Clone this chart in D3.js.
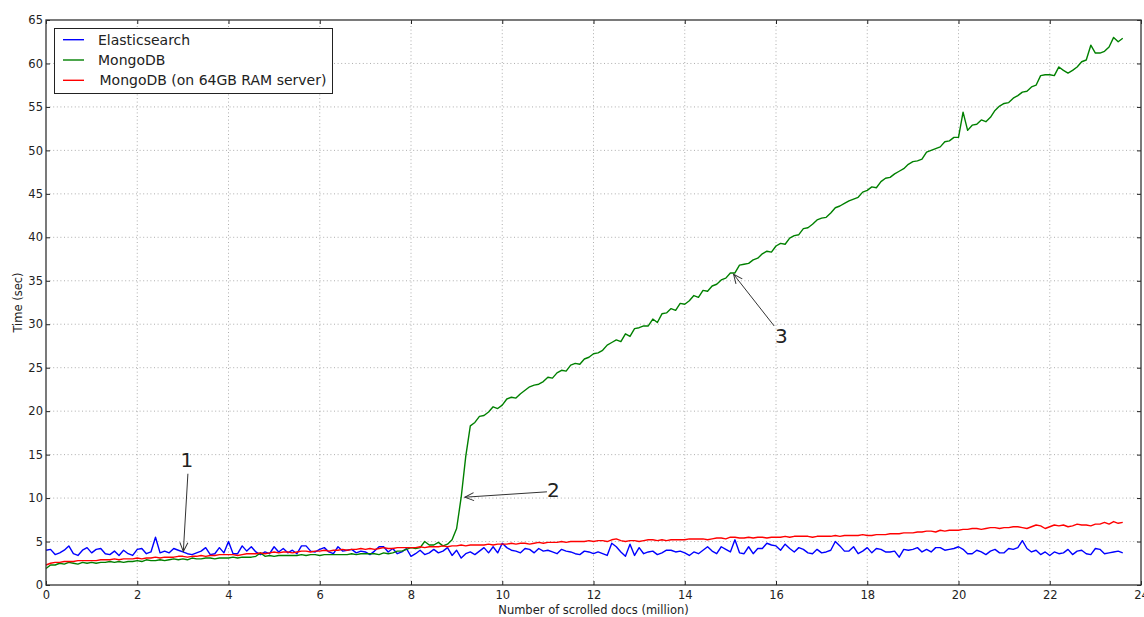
<!DOCTYPE html>
<html>
<head>
<meta charset="utf-8" />
<title>Scroll time</title>
<script src="https://cdn.jsdelivr.net/npm/d3@7"></script>
<style>
    body { margin: 0; background: #fff; }
    text { font-family: "DejaVu Sans", sans-serif; fill: #222; }
    .grid line { stroke: #999; stroke-width: 0.8; stroke-dasharray: 1, 2.6; }
    .series { fill: none; stroke-width: 1.4; stroke-linejoin: round; }
</style>
</head>
<body>
<svg width="1144" height="617"></svg>
<script>
// docs scrolled (million) advance by 0.1 per sample
var step = 0.1;

var elastic = [
    4.0,4.1,3.5,3.7,4.0,4.5,3.6,3.4,4.0,4.3,
    3.7,4.1,4.2,3.6,3.5,3.9,3.4,4.0,3.6,3.4,
    4.1,4.2,3.6,3.8,5.5,3.7,3.9,3.7,4.2,4.0,
    3.8,3.6,3.5,3.7,3.9,4.3,3.5,3.6,4.3,3.7,
    5.0,3.6,3.6,4.5,3.9,4.4,3.8,3.5,3.8,3.6,
    4.4,3.8,4.2,3.7,4.0,3.6,4.5,4.5,3.9,3.8,
    4.1,4.3,3.8,3.6,4.4,3.9,4.0,4.1,3.7,3.9,
    3.8,3.5,3.9,4.4,4.4,3.8,4.2,3.6,3.8,4.2,
    3.3,3.6,4.0,3.5,3.7,4.1,3.7,3.9,4.3,3.4,
    4.0,3.1,3.6,3.8,3.5,3.9,4.3,3.7,4.4,3.7,
    4.8,4.3,4.0,3.9,3.7,4.2,4.1,3.7,4.2,3.9,
    4.0,3.8,3.6,4.1,3.9,3.8,3.6,3.5,3.9,3.8,
    3.6,3.8,3.6,3.4,4.8,4.4,3.8,3.3,4.7,3.4,
    4.3,3.6,3.8,3.9,3.5,3.7,4.0,4.0,3.8,3.9,
    3.7,3.4,3.8,3.6,4.0,4.4,3.9,3.6,4.4,4.1,
    3.8,5.2,3.7,3.6,4.4,3.6,4.2,4.2,4.8,4.6,
    4.5,4.0,4.7,4.2,3.8,4.3,4.1,3.7,3.6,4.1,
    3.7,3.8,4.0,5.0,4.5,3.9,3.9,4.4,3.6,3.9,
    4.3,3.7,4.2,4.1,3.8,3.8,3.9,3.2,4.1,4.0,
    4.1,4.3,3.8,4.1,3.8,4.3,4.3,4.0,4.1,4.2,
    4.4,4.1,3.6,3.6,4.0,3.8,3.5,3.9,4.1,3.7,
    3.7,4.2,4.1,4.3,5.1,4.2,3.8,4.0,3.5,3.8,
    3.4,3.8,3.6,3.7,4.1,3.5,3.9,4.0,3.6,3.5,
    4.2,4.1,3.6,3.7,3.8,3.9,3.7
];

var mongo = [
    1.9,2.3,2.3,2.5,2.4,2.6,2.5,2.4,2.6,2.5,
    2.6,2.5,2.6,2.6,2.7,2.6,2.7,2.6,2.7,2.7,
    2.8,2.7,2.9,2.8,2.8,2.9,2.8,2.9,3.0,2.9,
    3.0,2.9,3.1,3.0,3.0,3.1,3.1,3.0,3.1,3.1,
    3.1,3.2,3.1,3.2,3.2,3.2,3.3,3.7,3.3,3.4,
    3.3,3.4,3.4,3.4,3.4,3.4,3.5,3.4,3.5,3.5,
    3.4,3.5,3.5,3.5,3.5,3.5,3.5,3.6,3.5,3.6,
    3.6,3.6,3.6,3.5,3.7,3.6,3.7,3.9,3.9,4.1,
    4.3,4.2,4.3,5.0,4.6,4.6,4.9,4.5,4.7,5.2,
    6.5,10.1,14.8,18.3,18.7,19.4,19.5,19.9,20.5,20.3,
    20.7,21.4,21.6,21.5,22.0,22.4,22.8,23.0,23.1,23.4,
    23.9,23.8,24.4,24.7,24.6,25.3,25.5,25.4,26.0,26.2,
    26.6,26.7,27.0,27.6,27.9,28.2,28.0,28.9,28.6,29.5,
    29.6,29.8,29.8,30.6,30.2,31.2,31.3,31.8,31.6,32.4,
    32.3,32.7,33.3,33.1,33.9,33.8,34.4,34.6,35.1,35.3,
    35.9,35.9,36.8,36.9,37.0,37.4,37.6,38.1,38.4,38.3,
    39.0,39.3,39.2,39.9,40.2,40.3,41.0,41.1,41.5,42.0,
    42.2,42.3,42.8,43.4,43.6,43.9,44.2,44.4,44.6,45.2,
    45.4,45.8,45.7,46.4,46.8,46.9,47.3,47.6,47.9,48.4,
    48.7,48.8,49.0,49.8,50.0,50.2,50.4,51.0,51.1,51.5,
    51.5,54.4,52.3,52.9,53.0,53.5,53.3,53.8,54.6,55.1,
    55.4,55.5,56.0,56.3,56.7,56.8,57.3,57.5,58.6,58.7,
    58.7,58.6,59.6,59.2,58.9,59.2,59.6,60.2,60.4,62.1,
    61.2,61.2,61.4,61.9,63.0,62.5,62.9
];

var mongoBig = [
    2.3,2.5,2.6,2.6,2.7,2.7,2.7,2.8,2.8,2.8,
    2.8,2.8,2.9,2.9,2.9,3.0,2.9,3.0,3.0,3.0,
    3.1,3.0,3.1,3.1,3.2,3.1,3.2,3.2,3.2,3.3,
    3.3,3.2,3.3,3.3,3.4,3.3,3.4,3.4,3.5,3.5,
    3.5,3.5,3.4,3.5,3.6,3.6,3.6,3.7,3.6,3.7,
    3.8,3.7,3.8,3.8,3.7,3.8,3.9,3.9,3.8,3.9,
    3.9,4.0,3.9,4.0,4.0,4.1,4.0,4.1,4.1,4.2,
    4.1,4.2,4.1,4.2,4.3,4.2,4.2,4.3,4.3,4.3,
    4.3,4.3,4.4,4.3,4.4,4.4,4.4,4.5,4.4,4.5,
    4.5,4.6,4.5,4.6,4.6,4.6,4.6,4.7,4.6,4.7,
    4.7,4.7,4.8,4.7,4.8,4.8,4.7,4.8,4.9,4.8,
    4.9,4.9,4.9,5.0,4.9,5.0,5.0,5.0,5.0,5.1,
    5.0,5.1,5.1,5.0,5.2,5.3,5.1,5.0,5.1,5.1,
    5.0,5.1,5.2,5.2,5.1,5.2,5.1,5.2,5.2,5.2,
    5.2,5.3,5.3,5.3,5.3,5.2,5.3,5.4,5.4,5.3,
    5.5,5.5,5.4,5.4,5.5,5.4,5.5,5.5,5.4,5.5,
    5.5,5.5,5.6,5.5,5.6,5.6,5.6,5.6,5.5,5.6,
    5.6,5.6,5.6,5.7,5.6,5.7,5.7,5.7,5.7,5.8,
    5.7,5.7,5.8,5.8,5.8,5.9,5.9,5.9,6.0,6.0,
    6.0,6.1,6.1,6.2,6.2,6.1,6.3,6.2,6.3,6.3,
    6.3,6.4,6.4,6.5,6.5,6.4,6.5,6.6,6.6,6.5,
    6.6,6.6,6.7,6.7,6.6,6.5,6.7,6.9,6.8,6.5,
    6.7,6.9,6.8,6.9,6.7,6.8,7.0,6.9,6.9,6.8,
    7.0,7.0,7.2,7.0,7.3,7.1,7.2
];

var seriesNames = ["Elasticsearch", "MongoDB", "MongoDB (on 64GB RAM server)"];
var seriesColors = ["#0000ff", "#008000", "#ff0000"];
var xTicks = [0, 2, 4, 6, 8, 10, 12, 14, 16, 18, 20, 22, 24];
var yTicks = [0, 5, 10, 15, 20, 25, 30, 35, 40, 45, 50, 55, 60, 65];

// numbered notes: text centre (tx, ty) -> arrow start (sx, sy) -> tip (x, y)
var notes = [
    { label: "1", tx: 3.09, ty: 14.4, sx: 3.11, sy: 12.8, x: 3.01, y: 3.85 },
    { label: "2", tx: 11.12, ty: 10.9, sx: 10.98, sy: 10.72, x: 9.18, y: 10.1 },
    { label: "3", tx: 16.12, ty: 28.7, sx: 15.96, sy: 29.8, x: 15.07, y: 35.75 }
];

var svg = d3.select("svg");
var m = { left: 46, right: 3, top: 20, bottom: 32 };
var W = 1144, H = 617;

var x = d3.scaleLinear().domain([0, 24]).range([m.left, W - m.right]);
var y = d3.scaleLinear().domain([0, 65]).range([H - m.bottom, m.top]);

// grid
var grid = svg.append("g").attr("class", "grid");
grid.selectAll(".gx").data(xTicks.slice(1, -1)).enter().append("line")
    .attr("x1", function (d) { return x(d); }).attr("x2", function (d) { return x(d); })
    .attr("y1", y(0)).attr("y2", y(65));
grid.selectAll(".gy").data(yTicks.slice(1, -1)).enter().append("line")
    .attr("y1", function (d) { return y(d); }).attr("y2", function (d) { return y(d); })
    .attr("x1", x(0)).attr("x2", x(24));

// lines
var line = d3.line()
    .x(function (d, i) { return x(i * step); })
    .y(function (d) { return y(d); });

var plot = svg.append("g");
[elastic, mongo, mongoBig].forEach(function (vals, k) {
    plot.append("path").datum(vals)
        .attr("class", "series")
        .attr("stroke", seriesColors[k])
        .attr("d", line);
});

// axes, matplotlib classic style: ticks inward on all sides, labels left/bottom
var tickLen = 4;
svg.append("g").attr("transform", "translate(0," + y(0) + ")")
    .call(d3.axisBottom(x).tickValues(xTicks).tickSize(-tickLen).tickPadding(6).tickFormat(d3.format("d")));
svg.append("g").attr("transform", "translate(0," + y(65) + ")")
    .call(d3.axisTop(x).tickValues(xTicks).tickSize(-tickLen).tickFormat(""));
svg.append("g").attr("transform", "translate(" + x(0) + ",0)")
    .call(d3.axisLeft(y).tickValues(yTicks).tickSize(-tickLen).tickPadding(3).tickFormat(d3.format("d")));
svg.append("g").attr("transform", "translate(" + x(24) + ",0)")
    .call(d3.axisRight(y).tickValues(yTicks).tickSize(-tickLen).tickFormat(""));

svg.selectAll(".domain").remove();
svg.selectAll(".tick line").attr("stroke", "#222");
svg.selectAll(".tick text").style("font-size", "11.5px").attr("fill", "#222");

svg.append("rect")
    .attr("x", x(0)).attr("y", y(65))
    .attr("width", x(24) - x(0)).attr("height", y(0) - y(65))
    .attr("fill", "none").attr("stroke", "#333").attr("stroke-width", 1.3);

// axis titles
svg.append("text")
    .attr("x", (x(0) + x(24)) / 2).attr("y", 614)
    .attr("text-anchor", "middle").style("font-size", "11.5px")
    .text("Number of scrolled docs (million)");
svg.append("text")
    .attr("transform", "translate(22," + (y(0) + y(65)) / 2 + ") rotate(-90)")
    .attr("text-anchor", "middle").style("font-size", "11.5px")
    .text("Time (sec)");

// annotations
svg.append("defs").append("marker")
    .attr("id", "head").attr("viewBox", "-10 -6 12 12")
    .attr("refX", 0).attr("refY", 0)
    .attr("markerWidth", 12).attr("markerHeight", 12)
    .attr("markerUnits", "userSpaceOnUse")
    .attr("orient", "auto")
    .append("path").attr("d", "M-9,-4 L0,0 L-9,4")
    .attr("fill", "none").attr("stroke", "#333").attr("stroke-width", 1);

var ann = svg.append("g");
notes.forEach(function (n) {
    ann.append("line")
        .attr("x1", x(n.sx)).attr("y1", y(n.sy))
        .attr("x2", x(n.x)).attr("y2", y(n.y))
        .attr("stroke", "#333").attr("stroke-width", 1)
        .attr("marker-end", "url(#head)");
    ann.append("text")
        .attr("x", x(n.tx)).attr("y", y(n.ty))
        .attr("dy", "0.36em").attr("text-anchor", "middle")
        .style("font-size", "20px").attr("fill", "#111")
        .text(n.label);
});

// legend
var lg = svg.append("g");
lg.append("rect").attr("x", 54.5).attr("y", 28.5).attr("width", 278).attr("height", 65)
    .attr("fill", "#fff").attr("stroke", "#222").attr("stroke-width", 1);
seriesNames.forEach(function (name, k) {
    var ly = 39.7 + k * 20.3;
    lg.append("line").attr("x1", 63).attr("x2", 84).attr("y1", ly).attr("y2", ly)
        .attr("stroke", seriesColors[k]).attr("stroke-width", 1.4);
    lg.append("text").attr("x", k == 2 ? 99.5 : 98).attr("y", ly).attr("dy", "0.36em")
        .style("font-size", "14px").text(name);
});
</script>
</body>
</html>
